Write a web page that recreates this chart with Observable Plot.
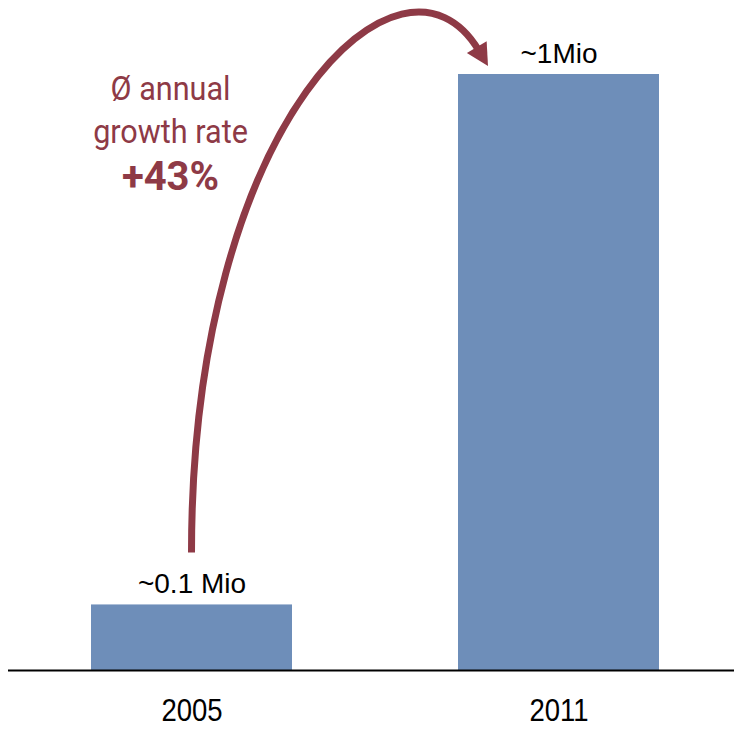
<!DOCTYPE html>
<html><head><meta charset="utf-8">
<script src="https://cdn.jsdelivr.net/npm/d3@7"></script>
<script src="https://cdn.jsdelivr.net/npm/@observablehq/plot@0.6"></script>
<style>body{margin:0;background:#fff}</style>
</head><body><div id="chart"></div>
<script>
const years = ["2005", "2011"];
const values = [0.11, 1.0]; // million
const valueLabels = ["~0.1 Mio", "~1Mio"];
const annotationLines = ["Ø annual\ngrowth rate"];
const growthLabel = ["+43%"];

const data = years.map((year, i) => ({year, value: values[i], label: valueLabels[i]}));

const barColor = "#6e8eb9";
const accent = "#8e3a46";

function growthArrow(index, scales) {
  const {x, y} = scales;
  const bw = typeof x.bandwidth === "function" ? x.bandwidth() : x.bandwidth;
  const sx = x(years[0]) + bw / 2;
  const sy = y(values[0]) - 52;
  const tx = x(years[1]) + 30;
  const ty = y(values[1]) - 8;
  const ang = Math.atan2(18.5, 11);
  const ux = Math.cos(ang), uy = Math.sin(ang);
  const headLen = 22, headHalf = 11.5;
  const ex = tx - ux * headLen, ey = ty - uy * headLen;
  const c1 = [sx, y(values[1]) + 46];
  const c2 = [ex - ux * 145, ey - uy * 145];
  const p = d3.path();
  p.moveTo(sx, sy);
  p.bezierCurveTo(c1[0], c1[1], c2[0], c2[1], ex + ux * 4, ey + uy * 4);
  const g = d3.create("svg:g");
  g.append("path").attr("d", p.toString()).attr("fill", "none")
    .attr("stroke", accent).attr("stroke-width", 7);
  const px = -uy, py = ux;
  g.append("path")
    .attr("d", `M${tx},${ty}L${ex + px * headHalf},${ey + py * headHalf}L${ex - px * headHalf},${ey - py * headHalf}Z`)
    .attr("fill", accent);
  return g.node();
}

const chart = Plot.plot({
  width: 734,
  height: 729,
  marginTop: 74,
  marginBottom: 59,
  marginLeft: 8,
  marginRight: 0,
  style: {fontFamily: "'Liberation Sans', sans-serif", background: "white"},
  x: {domain: years, range: [90, 660], paddingInner: 0.451, paddingOuter: 0, label: null},
  y: {domain: [0, 1], axis: null},
  marks: [
    Plot.barY(data, {x: "year", y: "value", fill: barColor}),
    Plot.ruleY([0], {stroke: "#000", strokeWidth: 2}),
    Plot.axisX({tickSize: 0, tickPadding: 28, fontSize: 32, fill: "#000", label: null}),
    Plot.text(data, {x: "year", y: "value", text: "label", lineAnchor: "bottom", dy: -12, fontSize: 28, fill: "#000"}),
    Plot.text(annotationLines, {text: d => d, frameAnchor: "top-left", textAnchor: "middle", dx: 162, dy: -5, lineAnchor: "top",
      lineHeight: 1.265, fontSize: 34, fontFamily: "Roboto", fill: accent}),
    Plot.text(growthLabel, {text: d => d, frameAnchor: "top-left", textAnchor: "middle", dx: 162, dy: 87, lineAnchor: "top",
      fontSize: 40, fontWeight: "bold", fontFamily: "Roboto", fill: accent}),
    growthArrow
  ]
});
chart.querySelectorAll("text").forEach(t => {
  const s = t.textContent;
  let k = null;
  if (s.includes("annual")) k = 0.9;
  else if (years.includes(s.trim())) k = 0.86;
  if (k != null) {
    const tr = t.getAttribute("transform") || "";
    t.setAttribute("transform", (tr + ` scale(${k},1)`).trim());
  }
});
document.getElementById("chart").appendChild(chart);
</script>
</body></html>
